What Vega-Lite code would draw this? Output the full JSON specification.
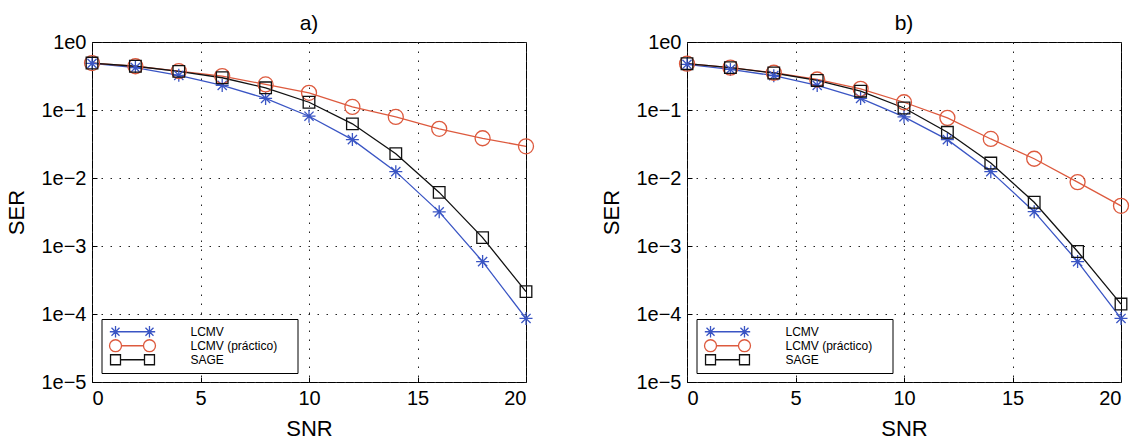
{
  "$schema": "https://vega.github.io/schema/vega-lite/v6.json",
  "background": "white",
  "padding": {"left": 5, "top": 12, "right": 5, "bottom": 0},
  "config": {
    "font": "Liberation Sans",
    "view": {"stroke": "black", "strokeWidth": 1},
    "axis": {
      "labelFont": "Liberation Sans",
      "titleFont": "Liberation Sans",
      "labelFontSize": 20,
      "titleFontSize": 22,
      "titleFontWeight": "normal",
      "labelColor": "black",
      "titleColor": "black",
      "grid": true,
      "gridDash": [1.5, 7.5],
      "gridColor": "#222222",
      "gridOpacity": 1,
      "domain": false,
      "ticks": true,
      "tickSize": -5,
      "tickColor": "black",
      "labelPadding": 11
    },
    "title": {"font": "Liberation Sans", "fontSize": 21, "fontWeight": "normal", "color": "black", "offset": -2},
    "legend": {
      "orient": "none",
      "legendX": 9.5,
      "legendY": 277,
      "strokeColor": "black",
      "fillColor": "white",
      "padding": 6,
      "rowPadding": 0,
      "clipHeight": 13.5,
      "labelFont": "Liberation Sans",
      "labelFontSize": 12,
      "labelColor": "black",
      "labelOffset": 51,
      "symbolSize": 144,
      "symbolOffset": 18,
      "symbolStrokeWidth": 1.3,
      "titleOrient": "right",
      "titlePadding": 13.5
    }
  },
  "datasets": {
    "ser": [
      {"panel": "a", "serie": "LCMV", "snr": 0, "ser": 0.485},
      {"panel": "a", "serie": "LCMV", "snr": 2, "ser": 0.42},
      {"panel": "a", "serie": "LCMV", "snr": 4, "ser": 0.323},
      {"panel": "a", "serie": "LCMV", "snr": 6, "ser": 0.23},
      {"panel": "a", "serie": "LCMV", "snr": 8, "ser": 0.148},
      {"panel": "a", "serie": "LCMV", "snr": 10, "ser": 0.081},
      {"panel": "a", "serie": "LCMV", "snr": 12, "ser": 0.0367},
      {"panel": "a", "serie": "LCMV", "snr": 14, "ser": 0.0124},
      {"panel": "a", "serie": "LCMV", "snr": 16, "ser": 0.00318},
      {"panel": "a", "serie": "LCMV", "snr": 18, "ser": 0.00059},
      {"panel": "a", "serie": "LCMV", "snr": 20, "ser": 0.000086},
      {"panel": "a", "serie": "LCMV (práctico)", "snr": 0, "ser": 0.49},
      {"panel": "a", "serie": "LCMV (práctico)", "snr": 2, "ser": 0.44},
      {"panel": "a", "serie": "LCMV (práctico)", "snr": 4, "ser": 0.374},
      {"panel": "a", "serie": "LCMV (práctico)", "snr": 6, "ser": 0.315},
      {"panel": "a", "serie": "LCMV (práctico)", "snr": 8, "ser": 0.238},
      {"panel": "a", "serie": "LCMV (práctico)", "snr": 10, "ser": 0.179},
      {"panel": "a", "serie": "LCMV (práctico)", "snr": 12, "ser": 0.111},
      {"panel": "a", "serie": "LCMV (práctico)", "snr": 14, "ser": 0.079},
      {"panel": "a", "serie": "LCMV (práctico)", "snr": 16, "ser": 0.0528},
      {"panel": "a", "serie": "LCMV (práctico)", "snr": 18, "ser": 0.0384},
      {"panel": "a", "serie": "LCMV (práctico)", "snr": 20, "ser": 0.0292},
      {"panel": "a", "serie": "SAGE", "snr": 0, "ser": 0.49},
      {"panel": "a", "serie": "SAGE", "snr": 2, "ser": 0.44},
      {"panel": "a", "serie": "SAGE", "snr": 4, "ser": 0.37},
      {"panel": "a", "serie": "SAGE", "snr": 6, "ser": 0.298},
      {"panel": "a", "serie": "SAGE", "snr": 8, "ser": 0.212},
      {"panel": "a", "serie": "SAGE", "snr": 10, "ser": 0.13},
      {"panel": "a", "serie": "SAGE", "snr": 12, "ser": 0.0626},
      {"panel": "a", "serie": "SAGE", "snr": 14, "ser": 0.0228},
      {"panel": "a", "serie": "SAGE", "snr": 16, "ser": 0.00614},
      {"panel": "a", "serie": "SAGE", "snr": 18, "ser": 0.00133},
      {"panel": "a", "serie": "SAGE", "snr": 20, "ser": 0.000213},
      {"panel": "b", "serie": "LCMV", "snr": 0, "ser": 0.47},
      {"panel": "b", "serie": "LCMV", "snr": 2, "ser": 0.395},
      {"panel": "b", "serie": "LCMV", "snr": 4, "ser": 0.32},
      {"panel": "b", "serie": "LCMV", "snr": 6, "ser": 0.23},
      {"panel": "b", "serie": "LCMV", "snr": 8, "ser": 0.148},
      {"panel": "b", "serie": "LCMV", "snr": 10, "ser": 0.079},
      {"panel": "b", "serie": "LCMV", "snr": 12, "ser": 0.0367},
      {"panel": "b", "serie": "LCMV", "snr": 14, "ser": 0.0124},
      {"panel": "b", "serie": "LCMV", "snr": 16, "ser": 0.0032},
      {"panel": "b", "serie": "LCMV", "snr": 18, "ser": 0.00059},
      {"panel": "b", "serie": "LCMV", "snr": 20, "ser": 0.000086},
      {"panel": "b", "serie": "LCMV (práctico)", "snr": 0, "ser": 0.48},
      {"panel": "b", "serie": "LCMV (práctico)", "snr": 2, "ser": 0.42},
      {"panel": "b", "serie": "LCMV (práctico)", "snr": 4, "ser": 0.353},
      {"panel": "b", "serie": "LCMV (práctico)", "snr": 6, "ser": 0.281},
      {"panel": "b", "serie": "LCMV (práctico)", "snr": 8, "ser": 0.205},
      {"panel": "b", "serie": "LCMV (práctico)", "snr": 10, "ser": 0.13},
      {"panel": "b", "serie": "LCMV (práctico)", "snr": 12, "ser": 0.0766},
      {"panel": "b", "serie": "LCMV (práctico)", "snr": 14, "ser": 0.0375},
      {"panel": "b", "serie": "LCMV (práctico)", "snr": 16, "ser": 0.0192},
      {"panel": "b", "serie": "LCMV (práctico)", "snr": 18, "ser": 0.0087},
      {"panel": "b", "serie": "LCMV (práctico)", "snr": 20, "ser": 0.0039},
      {"panel": "b", "serie": "SAGE", "snr": 0, "ser": 0.48},
      {"panel": "b", "serie": "SAGE", "snr": 2, "ser": 0.42},
      {"panel": "b", "serie": "SAGE", "snr": 4, "ser": 0.35},
      {"panel": "b", "serie": "SAGE", "snr": 6, "ser": 0.272},
      {"panel": "b", "serie": "SAGE", "snr": 8, "ser": 0.189},
      {"panel": "b", "serie": "SAGE", "snr": 10, "ser": 0.107},
      {"panel": "b", "serie": "SAGE", "snr": 12, "ser": 0.047},
      {"panel": "b", "serie": "SAGE", "snr": 14, "ser": 0.0166},
      {"panel": "b", "serie": "SAGE", "snr": 16, "ser": 0.0044},
      {"panel": "b", "serie": "SAGE", "snr": 18, "ser": 0.00083},
      {"panel": "b", "serie": "SAGE", "snr": 20, "ser": 0.00014}
    ]
  },
  "resolve": {
    "scale": {"color": "independent"},
    "legend": {"color": "independent"}
  },
  "bounds": "flush",
  "spacing": 161,
  "hconcat": [
    {
      "width": 434,
      "height": 340,
      "title": "a)",
      "data": {"name": "ser"},
      "transform": [{"filter": "datum.panel == 'a'"}],
      "encoding": {
        "x": {"field": "snr", "type": "quantitative", "scale": {"domain": [0, 20], "nice": false}, "axis": {"values": [0, 5, 10, 15, 20], "title": "SNR", "titlePadding": 10}},
        "y": {"field": "ser", "type": "quantitative", "scale": {"type": "log", "domain": [0.00001, 1]}, "axis": {"values": [0.00001, 0.0001, 0.001, 0.01, 0.1, 1], "title": "SER", "titlePadding": 12, "labelExpr": "'1e' + (datum.value >= 1 ? '0' : '\u2212' + round(-log(datum.value) / LN10))"}}
      },
      "layer": [
        {
          "mark": {"type": "line", "strokeWidth": 1.3},
          "encoding": {
            "color": {
              "field": "serie", "type": "nominal",
              "scale": {"domain": ["LCMV", "LCMV (práctico)", "SAGE"], "range": ["#3a55c4", "#dd5a3e", "#111111"]},
              "legend": {
                "title": " ",
                "encode": {"symbols": {"update": {
                  "fill": {"value": "transparent"},
                  "strokeWidth": {"value": 1.3},
                  "shape": {"signal": "datum.value === 'LCMV' ? 'M-2.83,0H2.83M-3.78,0H-1.88M-2.83,-0.95V0.95M-3.5,-0.67L-2.16,0.67M-3.5,0.67L-2.16,-0.67M1.88,0H3.78M2.83,-0.95V0.95M2.16,-0.67L3.5,0.67M2.16,0.67L3.5,-0.67' : datum.value === 'SAGE' ? 'M-2,0H2M-3.66,-0.83H-2V0.83H-3.66ZM2,-0.83H3.66V0.83H2Z' : 'M-1.83,0H1.83M-3.83,0A1,1,0,1,1,-1.83,0A1,1,0,1,1,-3.83,0ZM1.83,0A1,1,0,1,1,3.83,0A1,1,0,1,1,1.83,0Z'"}
                }}}
              }
            }
          }
        },
        {
          "transform": [{"filter": "datum.serie == 'LCMV'"}],
          "mark": {"type": "point", "shape": "M-0.65,0L0.65,0M0,-0.65L0,0.65M-0.46,-0.46L0.46,0.46M-0.46,0.46L0.46,-0.46", "filled": false, "size": 400, "strokeWidth": 1.3, "opacity": 1, "color": "#3a55c4"}
        },
        {
          "transform": [{"filter": "datum.serie == 'LCMV (práctico)'"}],
          "mark": {"type": "point", "shape": "M-0.75,0A0.75,0.75,0,1,1,0.75,0A0.75,0.75,0,1,1,-0.75,0Z", "filled": false, "size": 400, "strokeWidth": 1.3, "opacity": 1, "color": "#dd5a3e"}
        },
        {
          "transform": [{"filter": "datum.serie == 'SAGE'"}],
          "mark": {"type": "point", "shape": "M-0.58,-0.58H0.58V0.58H-0.58Z", "filled": false, "size": 400, "strokeWidth": 1.3, "opacity": 1, "color": "#111111"}
        }
      ]
    },
    {
      "width": 434,
      "height": 340,
      "title": "b)",
      "data": {"name": "ser"},
      "transform": [{"filter": "datum.panel == 'b'"}],
      "encoding": {
        "x": {"field": "snr", "type": "quantitative", "scale": {"domain": [0, 20], "nice": false}, "axis": {"values": [0, 5, 10, 15, 20], "title": "SNR", "titlePadding": 10}},
        "y": {"field": "ser", "type": "quantitative", "scale": {"type": "log", "domain": [0.00001, 1]}, "axis": {"values": [0.00001, 0.0001, 0.001, 0.01, 0.1, 1], "title": "SER", "titlePadding": 12, "labelExpr": "'1e' + (datum.value >= 1 ? '0' : '\u2212' + round(-log(datum.value) / LN10))"}}
      },
      "layer": [
        {
          "mark": {"type": "line", "strokeWidth": 1.3},
          "encoding": {
            "color": {
              "field": "serie", "type": "nominal",
              "scale": {"domain": ["LCMV", "LCMV (práctico)", "SAGE"], "range": ["#3a55c4", "#dd5a3e", "#111111"]},
              "legend": {
                "title": " ",
                "encode": {"symbols": {"update": {
                  "fill": {"value": "transparent"},
                  "strokeWidth": {"value": 1.3},
                  "shape": {"signal": "datum.value === 'LCMV' ? 'M-2.83,0H2.83M-3.78,0H-1.88M-2.83,-0.95V0.95M-3.5,-0.67L-2.16,0.67M-3.5,0.67L-2.16,-0.67M1.88,0H3.78M2.83,-0.95V0.95M2.16,-0.67L3.5,0.67M2.16,0.67L3.5,-0.67' : datum.value === 'SAGE' ? 'M-2,0H2M-3.66,-0.83H-2V0.83H-3.66ZM2,-0.83H3.66V0.83H2Z' : 'M-1.83,0H1.83M-3.83,0A1,1,0,1,1,-1.83,0A1,1,0,1,1,-3.83,0ZM1.83,0A1,1,0,1,1,3.83,0A1,1,0,1,1,1.83,0Z'"}
                }}}
              }
            }
          }
        },
        {
          "transform": [{"filter": "datum.serie == 'LCMV'"}],
          "mark": {"type": "point", "shape": "M-0.65,0L0.65,0M0,-0.65L0,0.65M-0.46,-0.46L0.46,0.46M-0.46,0.46L0.46,-0.46", "filled": false, "size": 400, "strokeWidth": 1.3, "opacity": 1, "color": "#3a55c4"}
        },
        {
          "transform": [{"filter": "datum.serie == 'LCMV (práctico)'"}],
          "mark": {"type": "point", "shape": "M-0.75,0A0.75,0.75,0,1,1,0.75,0A0.75,0.75,0,1,1,-0.75,0Z", "filled": false, "size": 400, "strokeWidth": 1.3, "opacity": 1, "color": "#dd5a3e"}
        },
        {
          "transform": [{"filter": "datum.serie == 'SAGE'"}],
          "mark": {"type": "point", "shape": "M-0.58,-0.58H0.58V0.58H-0.58Z", "filled": false, "size": 400, "strokeWidth": 1.3, "opacity": 1, "color": "#111111"}
        }
      ]
    }
  ]
}
